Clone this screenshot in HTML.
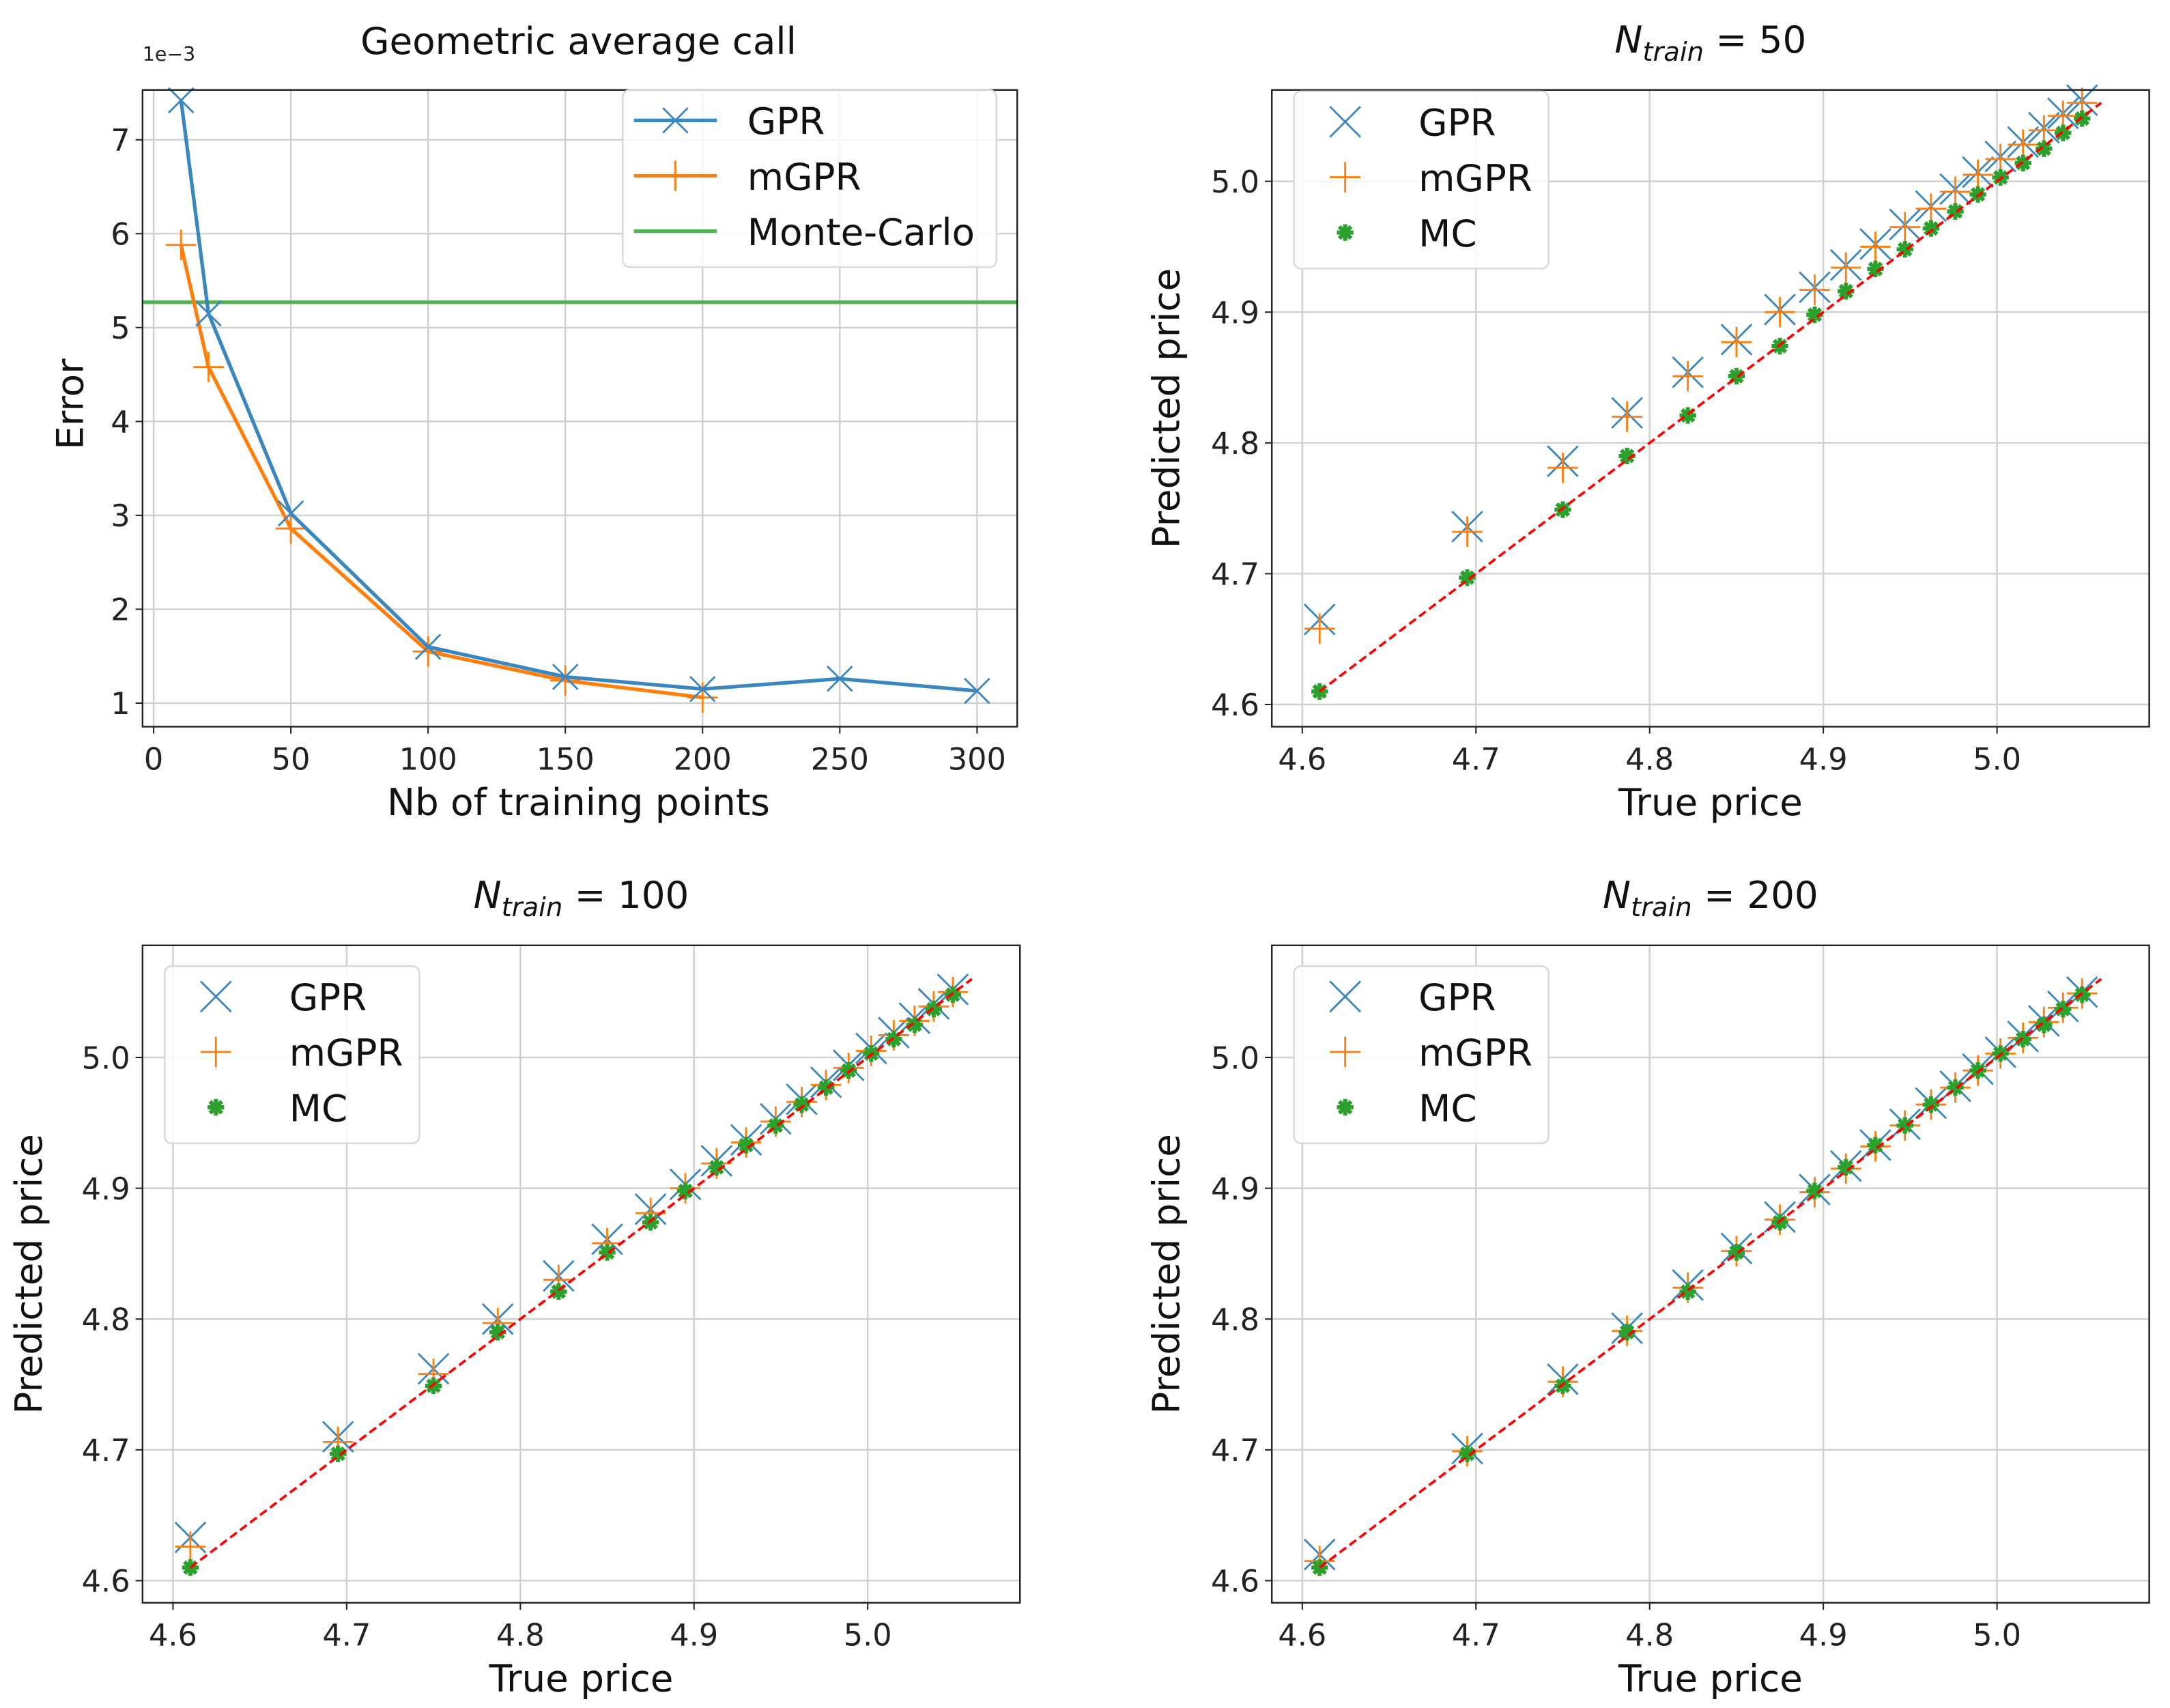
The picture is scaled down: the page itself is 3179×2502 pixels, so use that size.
<!DOCTYPE html>
<html><head><meta charset="utf-8"><style>
html,body{margin:0;padding:0;background:#fff;}
svg{display:block;font-family:"DejaVu Sans","Liberation Sans",sans-serif;}
</style></head><body>
<svg id="fig" width="3179" height="2502" viewBox="0 0 1568 1234" preserveAspectRatio="none" xmlns="http://www.w3.org/2000/svg"></svg>
<script>
// ---- Data ----
const errX_gpr = [10,20,50,100,150,200,250,300];
const errY_gpr = [7.42,5.15,3.02,1.6,1.28,1.15,1.26,1.13];
const errX_mgpr = [10,20,50,100,150,200];
const errY_mgpr = [5.88,4.58,2.86,1.55,1.24,1.06];
const errMC = 5.27;
const errXTicks = [0,50,100,150,200,250,300];
const errYTicks = [1,2,3,4,5,6,7];

const truePrice = [4.61,4.695,4.75,4.787,4.822,4.85,4.875,4.895,4.913,4.93,4.947,4.962,4.976,4.989,5.002,5.015,5.027,5.038,5.049];
const mc = [4.61,4.697,4.749,4.79,4.821,4.851,4.874,4.898,4.916,4.933,4.948,4.964,4.977,4.99,5.003,5.014,5.025,5.037,5.048];
const gpr50 = [4.665,4.736,4.786,4.823,4.854,4.879,4.902,4.919,4.936,4.952,4.967,4.981,4.994,5.007,5.019,5.03,5.041,5.052,5.062];
const mgpr50 = [4.658,4.732,4.781,4.82,4.851,4.877,4.9,4.917,4.934,4.95,4.965,4.979,4.992,5.005,5.017,5.028,5.039,5.05,5.06];
const gpr100 = [4.633,4.71,4.762,4.8,4.833,4.861,4.884,4.903,4.921,4.937,4.953,4.968,4.981,4.994,5.007,5.019,5.03,5.041,5.052];
const mgpr100 = [4.626,4.706,4.758,4.797,4.83,4.858,4.881,4.9,4.919,4.935,4.951,4.966,4.979,4.992,5.005,5.017,5.028,5.039,5.05];
const gpr200 = [4.62,4.701,4.754,4.793,4.826,4.854,4.878,4.899,4.917,4.933,4.949,4.965,4.978,4.991,5.004,5.016,5.028,5.039,5.05];
const mgpr200 = [4.615,4.699,4.752,4.791,4.824,4.852,4.876,4.897,4.915,4.932,4.948,4.964,4.977,4.99,5.003,5.015,5.027,5.038,5.049];
const priceXTicks = [4.6,4.7,4.8,4.9,5.0];
const priceYTicks = [4.6,4.7,4.8,4.9,5.0];
const diagRange = [4.61,5.06];

const NS="http://www.w3.org/2000/svg";
const svg=document.getElementById('fig');
function mk(tag,attrs,parent){const e=document.createElementNS(NS,tag);for(const k in attrs)e.setAttribute(k,attrs[k]);(parent||svg).appendChild(e);return e;}
const BLUE="#3a87c0",ORANGE="#ff7f0e",GREEN="#2ca02c",LGREEN="#55b055";

function axesFrame(L,R,T,B,xs,ys,xt,yt,fmt){
  const g=mk('g',{});
  
  
  xt.forEach(v=>{const x=xs(v);
    const l=mk('line',{x1:x,x2:x,y1:T,y2:B,stroke:"#d0d0d0","stroke-width":1.2},g);
    
    mk('line',{x1:x,x2:x,y1:B,y2:B+5,stroke:"#222","stroke-width":1},g);
    const t=mk('text',{x:x,y:B+31,"text-anchor":"middle","font-size":22,fill:"#222"},g);
    t.textContent=fmt(v);
    });
  yt.forEach(v=>{const y=ys(v);
    const l=mk('line',{x1:L,x2:R,y1:y,y2:y,stroke:"#d0d0d0","stroke-width":1.2},g);
    
    mk('line',{x1:L-5,x2:L,y1:y,y2:y,stroke:"#222","stroke-width":1},g);
    const t=mk('text',{x:L-9,y:y+8,"text-anchor":"end","font-size":22,fill:"#222"},g);
    t.textContent=fmt===String?String(v):v.toFixed(1);
    });
  return g;
}
function border(L,R,T,B){const r=mk('rect',{x:L,y:T,width:R-L,height:B-T,fill:"none",stroke:"#222","stroke-width":1.2});
  }
function xMark(x,y,s,parent){return mk('path',{d:`M${x-s},${y-s}L${x+s},${y+s}M${x-s},${y+s}L${x+s},${y-s}`,stroke:BLUE,"stroke-width":1.4,fill:"none"},parent);}
function plusMark(x,y,s,parent){return mk('path',{d:`M${x-s},${y}L${x+s},${y}M${x},${y-s}L${x},${y+s}`,stroke:ORANGE,"stroke-width":1.4,fill:"none"},parent);}
function starMark(x,y,s,parent){let d="";for(let i=0;i<4;i++){const a=i*Math.PI/4+Math.PI/2;d+=`M${x-s*Math.cos(a)},${y-s*Math.sin(a)}L${x+s*Math.cos(a)},${y+s*Math.sin(a)}`;}
  return mk('path',{d:d,stroke:GREEN,"stroke-width":3,fill:"none"},parent);}
function label(txt,x,y,size,rot,name){const t=mk('text',{x:x,y:y,"text-anchor":"middle","font-size":size,fill:"#111"});
  if(rot)t.setAttribute('transform',`rotate(-90 ${x} ${y})`);t.textContent=txt;
  return t;}
function legendBox(x,y,w,h){const r=mk('rect',{x:x,y:y,width:w,height:h,rx:5,fill:"#fff","fill-opacity":0.85,stroke:"#d8d8d8","stroke-width":1.2});
  }
function legText(t,x,y,name){const e=mk('text',{x:x,y:y+10,"font-size":27,fill:"#111"});e.textContent=t;
  }

// ---- Panel 1: error ----
(function(){
  const L=103,R=735,T=65,B=525;
  const xs=v=>111+(v-0)*(706-111)/300;
  const ys=v=>508-(v-1)*(508-101)/6;
  axesFrame(L,R,T,B,xs,ys,errXTicks,errYTicks,String);
  const mcl=mk('line',{x1:L,x2:R,y1:ys(errMC),y2:ys(errMC),stroke:LGREEN,"stroke-width":2.6});
  
  const gm=mk('g',{});
  mk('polyline',{points:errX_mgpr.map((v,i)=>xs(v)+','+ys(errY_mgpr[i])).join(' '),fill:"none",stroke:ORANGE,"stroke-width":2.6},gm);
  errX_mgpr.forEach((v,i)=>plusMark(xs(v),ys(errY_mgpr[i]),11,gm));
  const gg=mk('g',{});
  mk('polyline',{points:errX_gpr.map((v,i)=>xs(v)+','+ys(errY_gpr[i])).join(' '),fill:"none",stroke:BLUE,"stroke-width":2.6},gg);
  errX_gpr.forEach((v,i)=>xMark(xs(v),ys(errY_gpr[i]),9,gg));
  border(L,R,T,B);
  const s=mk('text',{x:L,y:44,"font-size":14,fill:"#222"});s.textContent="1e\u22123";
  
  label("Geometric average call",418,39,27,false,'chart-title');
  label("Nb of training points",418,589,27,false,'x-axis-title');
  label("Error",60,292,27,true,'y-axis-title');
  legendBox(450,65,270,128);
  mk('line',{x1:458,x2:518,y1:87,y2:87,stroke:BLUE,"stroke-width":2.6});xMark(488,87,9);
  mk('line',{x1:458,x2:518,y1:127,y2:127,stroke:ORANGE,"stroke-width":2.6});plusMark(488,127,11);
  mk('line',{x1:458,x2:518,y1:167,y2:167,stroke:LGREEN,"stroke-width":2.6});
  legText("GPR",540,87,'legend-gpr');legText("mGPR",540,127,'legend-mgpr');legText("Monte-Carlo",540,167,'legend-monte-carlo');
})();

// ---- Scatter panels ----
function scatter(L,T,B,title,gpr,mgpr,titleName,ylabX,legOff){
  const R=L+634;
  const x0=L+22;
  const xs=v=>x0+(v-4.6)*(502/0.4);
  const yb=B-16;
  const ys=v=>yb-(v-4.6)*(378/0.4);
  axesFrame(L,R,T,B,xs,ys,priceXTicks,priceYTicks,v=>v.toFixed(1));
  const g1=mk('g',{});
  truePrice.forEach((v,i)=>xMark(xs(v),ys(gpr[i]),11,g1));
  const g2=mk('g',{});
  truePrice.forEach((v,i)=>plusMark(xs(v),ys(mgpr[i]),11,g2));
  const g3=mk('g',{});
  truePrice.forEach((v,i)=>starMark(xs(v),ys(mc[i]),6,g3));
  const d=mk('line',{x1:xs(diagRange[0]),y1:ys(diagRange[0]),x2:xs(diagRange[1]),y2:ys(diagRange[1]),stroke:"#ff0000","stroke-width":1.8,"stroke-dasharray":"6,3"});
  
  border(L,R,T,B);
  const cx=L+317;
  const t=mk('text',{x:cx,y:T-27,"text-anchor":"middle","font-size":27,fill:"#111"});
  t.innerHTML='<tspan font-style="italic">N</tspan><tspan font-style="italic" font-size="19" dy="6">train</tspan><tspan dy="-6"> = '+title+'</tspan>';
  
  label("True price",cx,B+64,27,false,'x-axis-title');
  label("Predicted price",ylabX,(T+B)/2,27,true,'y-axis-title');
  const lx=L+16;
  const ly=T+legOff;
  legendBox(lx,ly,184,128);
  xMark(lx+37,ly+22,11);plusMark(lx+37,ly+62,11);starMark(lx+37,ly+102,6);
  legText("GPR",lx+90,ly+22,'legend-gpr');legText("mGPR",lx+90,ly+62,'legend-mgpr');legText("MC",lx+90,ly+102,'legend-mc');
}
scatter(919,65,525,"50",gpr50,mgpr50,'title-ntrain-50',852,1);
scatter(103,683,1158,"100",gpr100,mgpr100,'title-ntrain-100',30,15);
scatter(919,683,1158,"200",gpr200,mgpr200,'title-ntrain-200',852,15);
</script>
</body></html>
